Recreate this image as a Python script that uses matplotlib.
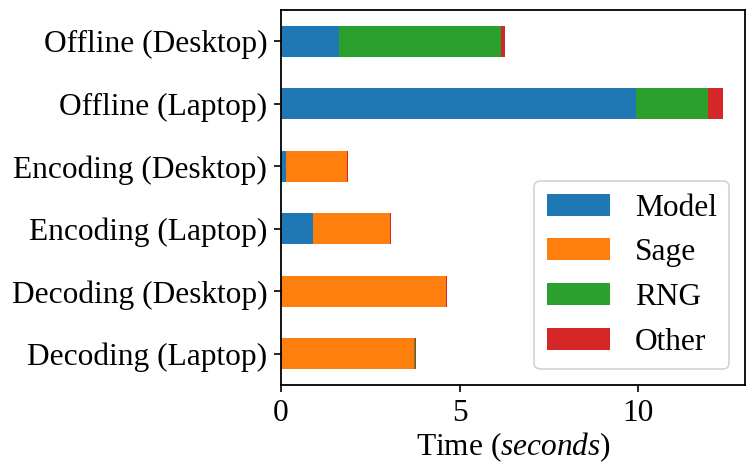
import matplotlib
matplotlib.use("Agg")
import matplotlib.pyplot as plt
from matplotlib.ticker import MultipleLocator
import pandas as pd

plt.rcParams['font.family'] = 'Liberation Serif'
plt.rcParams['font.size'] = 22.6
plt.rcParams['mathtext.fontset'] = 'custom'
plt.rcParams['mathtext.rm'] = 'Liberation Serif'
plt.rcParams['mathtext.it'] = 'Liberation Serif:italic'
plt.rcParams['axes.linewidth'] = 1.3
plt.rcParams['xtick.major.size'] = 5
plt.rcParams['ytick.major.size'] = 5
plt.rcParams['xtick.major.width'] = 1.2
plt.rcParams['ytick.major.width'] = 1.2
plt.rcParams['xtick.major.pad'] = 5
plt.rcParams['ytick.major.pad'] = 5

# timings in seconds, listed bottom to top
tasks = ["Decoding (Laptop)", "Decoding (Desktop)", "Encoding (Laptop)",
         "Encoding (Desktop)", "Offline (Laptop)", "Offline (Desktop)"]
model = [0.0, 0.0, 0.89, 0.14, 9.94, 1.62]
sage = [3.72, 4.61, 2.15, 1.70, 0.0, 0.0]
rng = [0.03, 0.0, 0.0, 0.0, 2.02, 4.55]
other = [0.03, 0.05, 0.03, 0.03, 0.41, 0.11]

df = pd.DataFrame({"Model": model, "Sage": sage, "RNG": rng, "Other": other}, index=tasks)

fig, ax = plt.subplots(figsize=(7.48, 4.66), dpi=100)
df.plot.barh(stacked=True, ax=ax)
ax.xaxis.set_major_locator(MultipleLocator(5))
ax.set_xlabel(r"Time ($\it{seconds}$)", labelpad=2)
ax.set_ylabel("")
leg = ax.legend(loc="lower right")
leg.get_frame().set_linewidth(1.3)
fig.subplots_adjust(left=0.3757, right=0.996, top=0.9785, bottom=0.1738)
fig.savefig("out.png", dpi=100)
